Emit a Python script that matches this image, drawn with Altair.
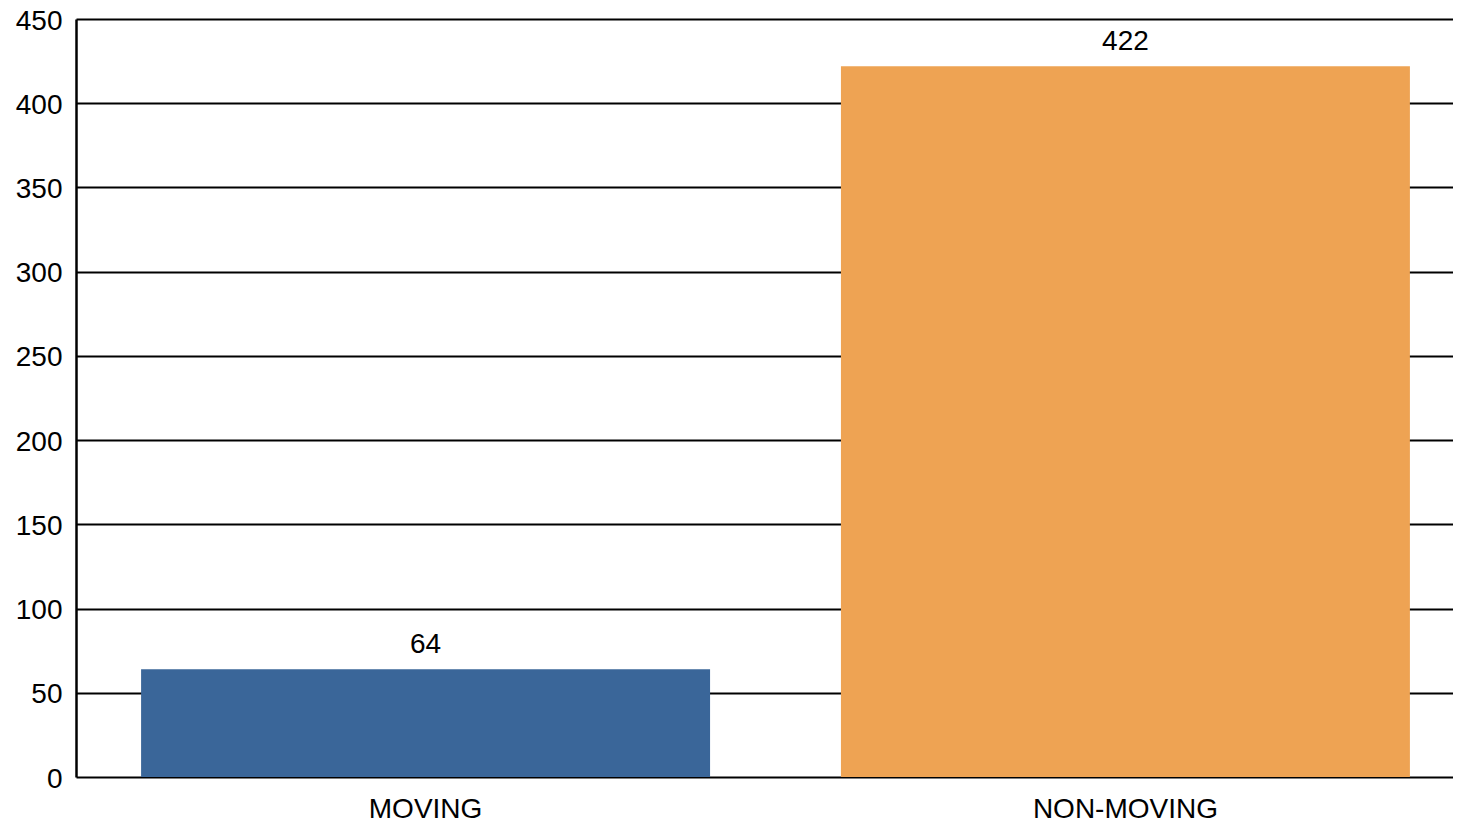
import altair as alt
import pandas as pd

categories = ["MOVING", "NON-MOVING"]
counts = [64, 422]
colors = ["#3A6699", "#EEA353"]

df = pd.DataFrame({"category": categories, "count": counts})

FONT = "Liberation Sans"

x = alt.X(
    "category:N",
    sort=categories,
    scale=alt.Scale(range=[0, 1399], paddingInner=0.187, paddingOuter=0.093),
    axis=alt.Axis(
        title=None, domain=False, ticks=False, labelAngle=0,
        labelFont=FONT, labelFontSize=28, labelColor="#000000",
        labelPadding=18, labelLimit=0,
    ),
)
y = alt.Y(
    "count:Q",
    scale=alt.Scale(domain=[0, 450], nice=False),
    axis=alt.Axis(
        title=None, values=[0, 50, 100, 150, 200, 250, 300, 350, 400, 450],
        grid=True, gridColor="#000000", gridWidth=2, gridOpacity=1,
        domain=True, domainColor="#000000", domainWidth=2.5,
        ticks=False, labelPadding=14, labelOffset=2,
        labelFont=FONT, labelFontSize=28, labelColor="#000000",
    ),
)

bars = alt.Chart(df).mark_bar().encode(
    x=x, y=y,
    color=alt.Color("category:N", scale=alt.Scale(domain=categories, range=colors), legend=None),
)
text = alt.Chart(df).mark_text(
    font=FONT, fontSize=28, color="#000000", baseline="alphabetic", dy=-16
).encode(x=x, y=y, text="count:Q")

chart = (bars + text).properties(
    width=1377, height=758,
    autosize=alt.AutoSizeParams(type="none"),
    padding={"left": 68, "top": 11, "right": 0, "bottom": 46},
).configure_view(stroke=None)

chart.save("out.html", embed_options={"renderer": "svg", "actions": False})
